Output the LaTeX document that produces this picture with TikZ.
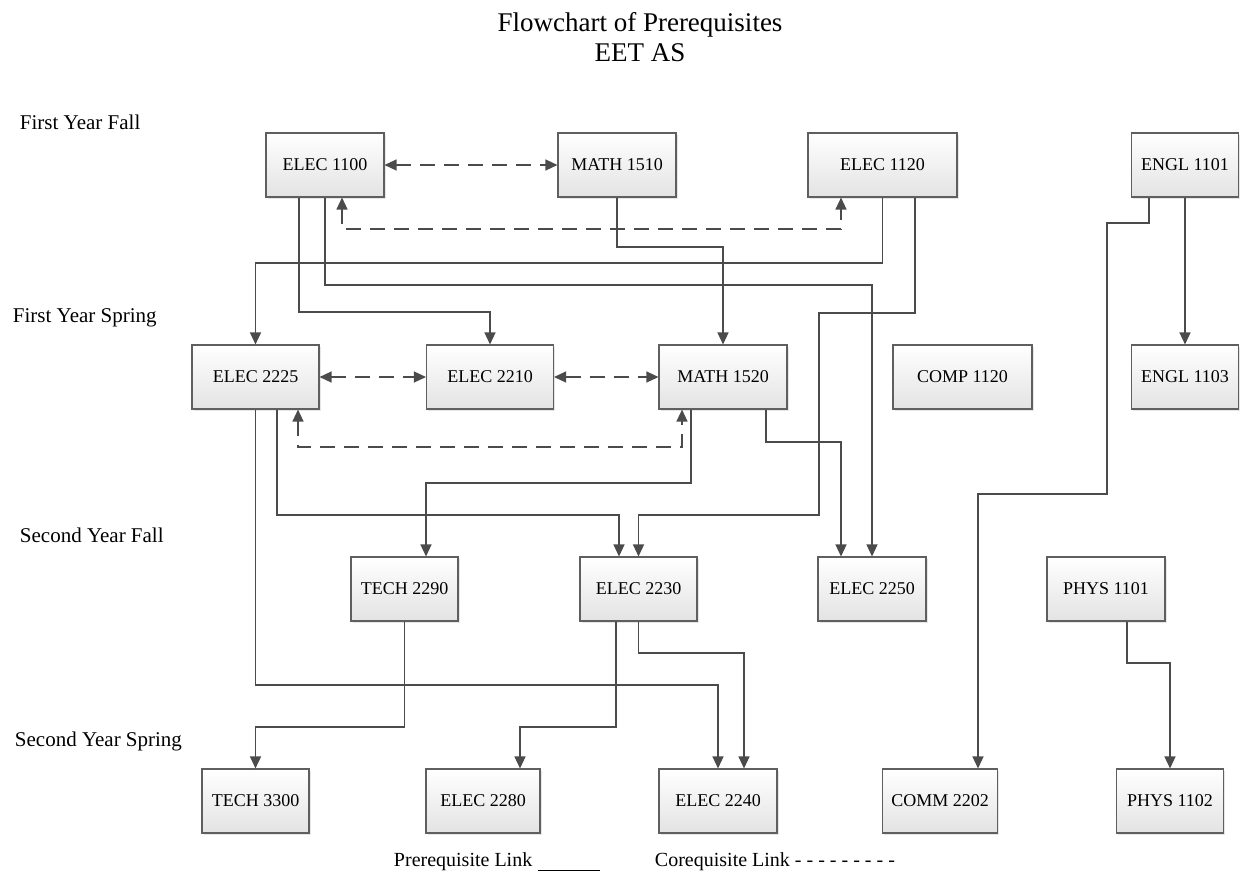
\documentclass[tikz,border=0pt]{standalone}
\usepackage{fontspec}
\setmainfont{Liberation Serif}
\usetikzlibrary{arrows.meta}
\usetikzlibrary{shadows}

\begin{document}
\begin{tikzpicture}[x=1pt,y=-1pt,>={Triangle[length=12pt,width=11pt]},
	line width=1.3pt,
	course/.style={draw=boxgray,line width=1.1pt,top color=white,bottom color=black!11,
		minimum height=64pt,inner sep=0pt,font=\fontsize{18}{20}\selectfont,
		drop shadow={shadow xshift=1.5pt,shadow yshift=-1.5pt,opacity=0.2}},
	prereq/.style={->,draw=linegray},
	coreq/.style={<->,draw=linegray,dash pattern=on 15pt off 9pt},
	term/.style={anchor=west,font=\fontsize{21}{24}\selectfont}]
	
	\definecolor{linegray}{RGB}{75,75,75}
	\definecolor{boxgray}{RGB}{95,95,95}
	
	\useasboundingbox (0,0) rectangle (1241,879);
	
	% title and terms
	\node[align=center,font=\fontsize{27}{30}\selectfont] (title) at (640,37) {Flowchart of Prerequisites\\EET AS};
	\node[term] (fyfall) at (16,122) {First Year Fall};
	\node[term] (fyspring) at (9,318) {First Year Spring};
	\node[term] (syfall) at (16,535) {Second Year Fall};
	\node[term] (syspring) at (11,741) {Second Year Spring};
	
	% first year fall
	\node[course, minimum width=118pt] (e1100) at (325,165) {ELEC 1100};
	\node[course, minimum width=118pt] (m1510) at (617,165) {MATH 1510};
	\node[course, minimum width=149pt] (e1120) at (882.5,165) {ELEC 1120};
	\node[course, minimum width=107pt] (en1101) at (1185,165) {ENGL 1101};
	
	% first year spring
	\node[course, minimum width=127pt] (e2225) at (255.5,377) {ELEC 2225};
	\node[course, minimum width=127pt] (e2210) at (490,377) {ELEC 2210};
	\node[course, minimum width=128pt] (m1520) at (723,377) {MATH 1520};
	\node[course, minimum width=139pt] (c1120) at (962.5,377) {COMP 1120};
	\node[course, minimum width=107pt] (en1103) at (1185,377) {ENGL 1103};
	
	% second year fall
	\node[course, minimum width=107pt] (t2290) at (404.5,589) {TECH 2290};
	\node[course, minimum width=117pt] (e2230) at (638.5,589) {ELEC 2230};
	\node[course, minimum width=108pt] (e2250) at (872,589) {ELEC 2250};
	\node[course, minimum width=118pt] (p1101) at (1106,589) {PHYS 1101};
	
	% second year spring
	\node[course, minimum width=107pt] (t3300) at (255.5,801) {TECH 3300};
	\node[course, minimum width=114pt] (e2280) at (483,801) {ELEC 2280};
	\node[course, minimum width=118pt] (e2240) at (718,801) {ELEC 2240};
	\node[course, minimum width=115pt] (cm2202) at (940,801) {COMM 2202};
	\node[course, minimum width=107pt] (p1102) at (1170,801) {PHYS 1102};
	
	% corequisites
	\draw[coreq] (e1100.east) -- (m1510.west);
	\draw[coreq] ([xshift=17pt]e1100.south) |- (841,229) -- ([xshift=-41.5pt]e1120.south);
	\draw[coreq] (e2225.east) -- (e2210.west);
	\draw[coreq] (e2210.east) -- (m1520.west);
	\draw[coreq] ([xshift=42.5pt]e2225.south) |- (682,447) -- ([xshift=-41pt]m1520.south);
	
	% prerequisites
	\draw[prereq] ([xshift=-26pt]e1100.south) |- (490,312) -- (e2210.north);
	\draw[prereq] (e1100.south) |- (872,285) -- (e2250.north);
	\draw[prereq] (m1510.south) |- (723,247) -- (m1520.north);
	\draw[prereq] (e1120.south) |- (255.5,263) -- (e2225.north);
	\draw[prereq] ([xshift=32.5pt]e1120.south) |- (819,313) |- (638.5,515) -- (e2230.north);
	\draw[prereq] ([xshift=-36pt]en1101.south) |- (1107,223) |- (978,494) -- ([xshift=38pt]cm2202.north);
	\draw[prereq] (en1101.south) -- (en1103.north);
	\draw[prereq] (e2225.south) |- (718,685) -- (e2240.north);
	\draw[prereq] ([xshift=21.5pt]e2225.south) |- (619,515) -- ([xshift=-19.5pt]e2230.north);
	\draw[prereq] ([xshift=-32pt]m1520.south) |- (426,483) -- ([xshift=21.5pt]t2290.north);
	\draw[prereq] ([xshift=43pt]m1520.south) |- (841,442) -- ([xshift=-31pt]e2250.north);
	\draw[prereq] (t2290.south) |- (255.5,727) -- (t3300.north);
	\draw[prereq] ([xshift=-22.5pt]e2230.south) |- (520,727) -- ([xshift=37pt]e2280.north);
	\draw[prereq] (e2230.south) |- (744,653) -- ([xshift=26pt]e2240.north);
	\draw[prereq] ([xshift=21pt]p1101.south) |- (1170,663) -- (p1102.north);
	
	% legend
	\node[anchor=west,font=\fontsize{20}{22}\selectfont] (prelink) at (390,862) {Prerequisite Link\hspace{6pt}\rule[-5pt]{62pt}{1.2pt}};
	\node[anchor=west,font=\fontsize{20}{22}\selectfont] (corelink) at (651,862) {Corequisite Link - - - - - - - - -};
\end{tikzpicture}
\end{document}
